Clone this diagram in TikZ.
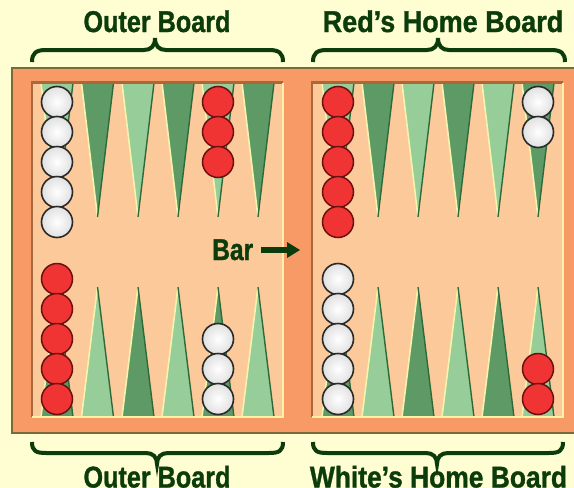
\documentclass[tikz,border=0pt]{standalone}
\usepackage{fontspec}
\setmainfont{Liberation Sans}[BoldFeatures={FakeBold=1.2}]
\definecolor{bgc}{HTML}{FFFDD2}
\definecolor{framec}{HTML}{F89A66}
\definecolor{framel}{HTML}{7A6A3A}
\definecolor{peach}{HTML}{FCC99A}
\definecolor{brownedge}{HTML}{A8683A}
\definecolor{lightedge}{HTML}{FFF2A8}
\definecolor{dkgreen}{HTML}{5E9A66}
\definecolor{ltgreen}{HTML}{96CD98}
\definecolor{hlc}{HTML}{F4F4AC}
\definecolor{shc}{HTML}{2E6A3A}
\definecolor{txtc}{HTML}{0C3C0C}
\definecolor{redchk}{HTML}{F03434}
\definecolor{redline}{HTML}{6A1010}
\definecolor{whline}{HTML}{2A2A2A}
\tikzset{
  hl/.style={hlc,line width=1.6pt},
  sh/.style={shc,line width=1.4pt},
  bracestyle/.style={txtc,line width=4pt},
  lbl/.style={txtc,inner sep=0pt,anchor=base,font=\fontsize{30}{32}\selectfont\bfseries},
  whitechk/.style={inner color=white,outer color=white!88!black,draw=whline,line width=1.6pt},
  redchkst/.style={fill=redchk,draw=redline,line width=1.5pt}
}
\newcommand\toptri[2]{%
  \fill[#2] (#1-16,83) -- (#1,217) -- (#1+16,83) -- cycle;
  \draw[hl] (#1-16,83) -- (#1,217);
  \draw[sh] (#1+16,83) -- (#1,217);
}
\newcommand\bottri[2]{%
  \fill[#2] (#1-16,417) -- (#1,287) -- (#1+16,417) -- cycle;
  \draw[hl] (#1-16,417) -- (#1,287);
  \draw[sh] (#1+16,417) -- (#1,287);
}
\newcommand\topbrace[3]{%
  \draw[bracestyle] (#1,62) .. controls (#1,53) and (#1+4,50) .. (#1+14,50)
    -- (#2-11,50) .. controls (#2-4,50) and (#2,46) .. (#2,38)
    .. controls (#2,46) and (#2+4,50) .. (#2+11,50)
    -- (#3-14,50) .. controls (#3-4,50) and (#3,53) .. (#3,62);
}
\newcommand\botbrace[3]{%
  \draw[bracestyle] (#1,442) .. controls (#1,451) and (#1+4,453) .. (#1+14,453)
    -- (#2-11,453) .. controls (#2-4,453) and (#2,457) .. (#2,464)
    .. controls (#2,457) and (#2+4,453) .. (#2+11,453)
    -- (#3-14,453) .. controls (#3-4,453) and (#3,451) .. (#3,442);
}
\begin{document}
\begin{tikzpicture}[x=1pt,y=-1pt]
\useasboundingbox (0,0) rectangle (574,488);
\fill[bgc] (0,0) rectangle (574,488);
% frame
\fill[framec] (12,68) rectangle (575,433);
\draw[framel,line width=1.2pt] (575,68) -- (12,68) -- (12,433) -- (575,433);
% inner areas
\fill[peach] (32,83) rectangle (283,417);
\fill[peach] (312,83) rectangle (563,417);
% triangles
\foreach \x [count=\i] in {57,97.5,138,178,218,258,338,378,418,458,498,538}{
  \ifodd\i \toptri{\x}{ltgreen}\bottri{\x}{dkgreen}\else\toptri{\x}{dkgreen}\bottri{\x}{ltgreen}\fi
}
% inner edges
\draw[brownedge,line width=2.5pt] (32,417) -- (32,82.5) -- (283,82.5);
\draw[lightedge,line width=2pt] (283,83) -- (283,417) -- (32,417);
\draw[brownedge,line width=2.5pt] (312,417) -- (312,82.5) -- (563,82.5);
\draw[lightedge,line width=2pt] (563,83) -- (563,417) -- (312,417);
% checkers
\foreach \y in {102,132,162,192,222}{
  \draw[whitechk] (57,\y) circle (15.5);
  \draw[redchkst] (338,\y) circle (15.5);
}
\foreach \y in {102,132,162}{\draw[redchkst] (218,\y) circle (15.5);}
\foreach \y in {102,132}{\draw[whitechk] (538,\y) circle (15.5);}
\foreach \y in {279,309,339,369,399}{
  \draw[redchkst] (57,\y) circle (15.5);
  \draw[whitechk] (338,\y) circle (15.5);
}
\foreach \y in {339,369,399}{\draw[whitechk] (218,\y) circle (15.5);}
\foreach \y in {369,399}{\draw[redchkst] (538,\y) circle (15.5);}
% braces
\topbrace{32}{155}{283}
\topbrace{313}{438}{565}
\botbrace{32}{157}{283}
\botbrace{313}{437}{563}
% labels
\node[lbl] (outertop) at (157,32) {\scalebox{0.84}[1]{Outer Board}};
\node[lbl] (redhome) at (443,32) {\scalebox{0.90}[1]{Red's Home Board}};
\node[lbl] (outerbot) at (157,487.5) {\scalebox{0.84}[1]{Outer Board}};
\node[lbl] (whitehome) at (438.5,487.5) {\scalebox{0.88}[1]{White's Home Board}};
\node[lbl,anchor=base west] (bar) at (212,260) {\scalebox{0.82}[1]{Bar}};
\coordinate (barend) at (300,250);
\coordinate (headbase) at (287,250);
\coordinate (shaftstart) at (bar.east |- barend);
\draw[txtc,line width=5.4pt] (shaftstart) ++(8,0) -- (headbase);
\fill[txtc] ([yshift=-8pt]headbase) -- (barend) -- ([yshift=8pt]headbase) -- cycle;
\end{tikzpicture}
\end{document}
